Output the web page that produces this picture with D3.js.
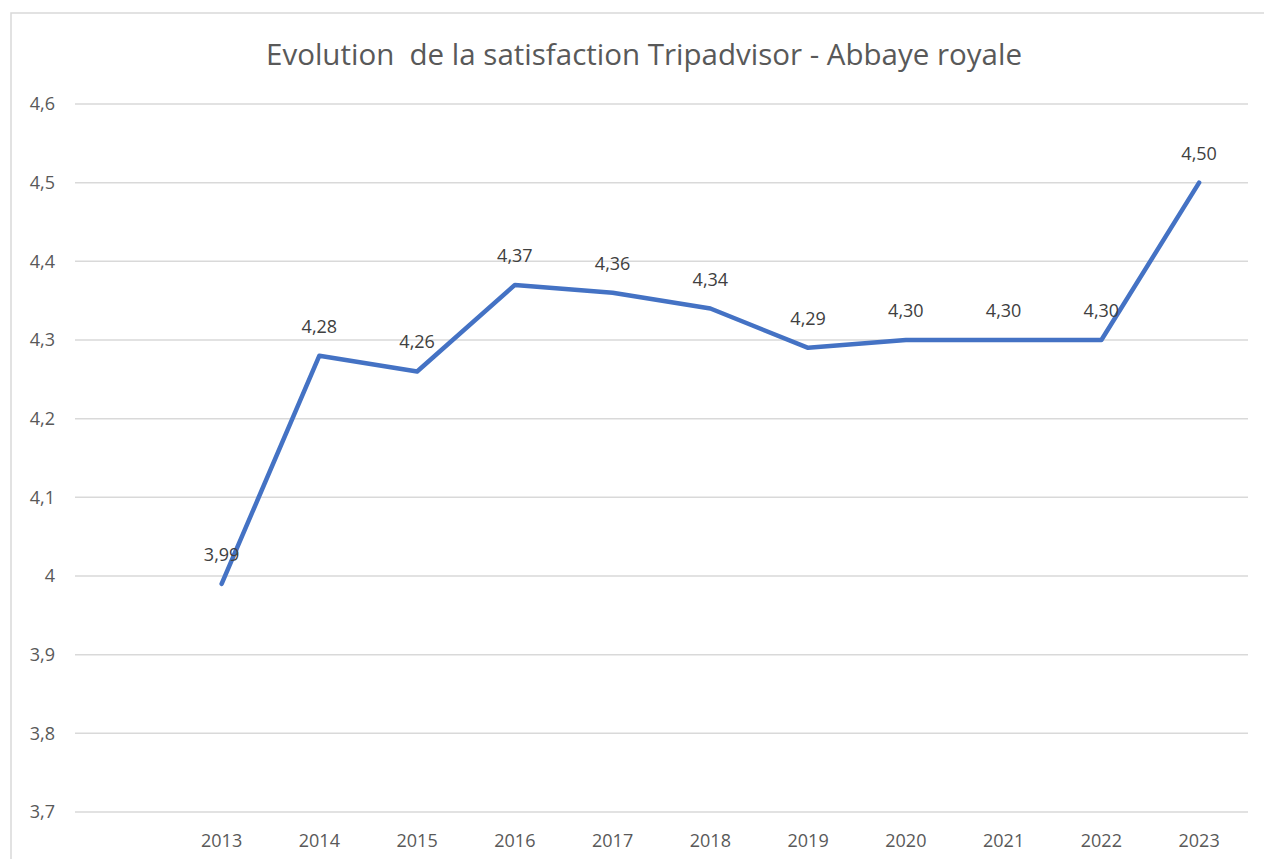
<!DOCTYPE html>
<html>
<head>
<meta charset="utf-8">
<script src="https://cdn.jsdelivr.net/npm/d3@7"></script>
<style>
  body { margin: 0; background: #fff; }
  svg { display: block; font-family: "Open Sans", sans-serif; }
</style>
</head>
<body>
<div id="chart"></div>
<script>
// first category is an empty slot, as in the source sheet
var years = ["", "2013", "2014", "2015", "2016", "2017", "2018", "2019", "2020", "2021", "2022", "2023"];
var scores = [null, 3.99, 4.28, 4.26, 4.37, 4.36, 4.34, 4.29, 4.30, 4.30, 4.30, 4.50];
var yTicks = [3.7, 3.8, 3.9, 4.0, 4.1, 4.2, 4.3, 4.4, 4.5, 4.6];
var title = "Evolution  de la satisfaction Tripadvisor - Abbaye royale";

var width = 1264, height = 859;
var plotLeft = 75, plotRight = 1248, plotTop = 104, plotBottom = 812;

var svg = d3.select('#chart').append('svg')
    .attr('width', width)
    .attr('height', height);

// chart area border
svg.append('rect')
    .attr('x', 11)
    .attr('y', 13)
    .attr('width', width + 10)
    .attr('height', height + 10)
    .style('fill', '#fff')
    .style('stroke', '#d9d9d9')
    .style('stroke-width', 1.5);

svg.append('text')
    .attr('x', 644)
    .attr('y', 65)
    .attr('text-anchor', 'middle')
    .style('white-space', 'pre')
    .style('font-size', '29.5px')
    .style('fill', '#595959')
    .text(title);

var x = d3.scaleBand()
    .domain(years)
    .range([plotLeft, plotRight]);

var y = d3.scaleLinear()
    .domain([3.7, 4.6])
    .range([plotBottom, plotTop]);

// gridlines
svg.append('g')
    .selectAll('line')
    .data(yTicks)
    .join('line')
    .attr('x1', plotLeft)
    .attr('x2', plotRight)
    .attr('y1', d => y(d))
    .attr('y2', d => y(d))
    .style('stroke', '#d9d9d9')
    .style('stroke-width', 1.5);

var fmt = d3.format('.1f');
var comma = s => s.replace('.', ',');

// y axis labels
svg.append('g')
    .selectAll('text')
    .data(yTicks)
    .join('text')
    .attr('x', 55)
    .attr('y', d => y(d))
    .attr('dy', '0.35em')
    .attr('text-anchor', 'end')
    .style('font-size', '18px')
    .style('fill', '#595959')
    .text(d => d === 4 ? '4' : comma(fmt(d)));

// x axis labels
svg.append('g')
    .selectAll('text')
    .data(years)
    .join('text')
    .attr('x', d => x(d) + x.bandwidth() / 2)
    .attr('y', 847)
    .attr('text-anchor', 'middle')
    .style('font-size', '18px')
    .style('fill', '#595959')
    .text(d => d);

var points = years.map((d, i) => ({ year: d, value: scores[i] }))
    .filter(d => d.value !== null);

var line = d3.line()
    .x(d => x(d.year) + x.bandwidth() / 2)
    .y(d => y(d.value));

svg.append('path')
    .datum(points)
    .attr('d', line)
    .style('fill', 'none')
    .style('stroke', '#4472c4')
    .style('stroke-width', 4.5)
    .style('stroke-linejoin', 'round')
    .style('stroke-linecap', 'round');

// data labels
svg.append('g')
    .selectAll('text')
    .data(points)
    .join('text')
    .attr('x', d => x(d.year) + x.bandwidth() / 2)
    .attr('y', d => y(d.value) - 23)
    .attr('text-anchor', 'middle')
    .style('font-size', '18px')
    .style('fill', '#404040')
    .text(d => comma(d3.format('.2f')(d.value)));
</script>
</body>
</html>
